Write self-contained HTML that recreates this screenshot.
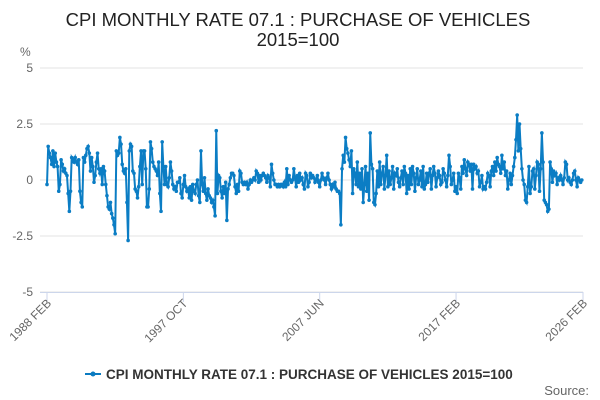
<!DOCTYPE html>
<html><head><meta charset="utf-8"><style>
body{margin:0;background:#fff;font-family:"Liberation Sans",sans-serif;}
svg{display:block}
</style></head><body>
<svg id="chart" width="600" height="400">
<text x="298" y="26" text-anchor="middle" font-size="18.5" fill="#222">CPI MONTHLY RATE 07.1 : PURCHASE OF VEHICLES</text>
<text x="298" y="46" text-anchor="middle" font-size="18.5" fill="#222">2015=100</text>
<text x="20" y="56" font-size="12" fill="#666">%</text>
<g id="grid"></g><g id="xaxis"></g><g id="series"></g>
<g>
<line x1="85" y1="374" x2="101" y2="374" stroke="#0a7bc1" stroke-width="2"/>
<circle cx="93" cy="374" r="2.5" fill="#0a7bc1"/>
<text x="106" y="379" font-size="13.5" font-weight="bold" fill="#333">CPI MONTHLY RATE 07.1 : PURCHASE OF VEHICLES 2015=100</text>
</g>
<text x="589" y="395" text-anchor="end" font-size="13" fill="#666">Source:</text>
</svg>
<script>
const yTicks=[5,2.5,0,-2.5,-5];
const yTickLabels=["5","2.5","0","-2.5","-5"];
const xTickIdx=[0,116,232,348,456];
const xTickLabels=["1988 FEB","1997 OCT","2007 JUN","2017 FEB","2026 FEB"];
const values=[
-0.2,1.5,1.2,1.0,0.7,1.3,0.6,1.2,0.8,0.6,-0.5,-0.2,
0.9,0.7,0.4,0.5,0.3,0.2,-0.6,-1.4,-0.5,1.0,0.9,0.8,
1.0,0.8,0.7,0.9,-0.5,-1.0,-1.2,1.0,0.8,1.1,1.4,1.5,
1.2,0.4,1.0,0.6,-0.1,0.2,0.8,1.2,0.5,0.3,0.5,-0.2,
0.6,0.4,-0.2,-0.7,-1.2,-1.3,-1.0,-1.5,-1.7,-2.0,-2.4,
1.3,1.1,1.2,1.9,1.6,0.7,0.4,0.3,0.5,-1.0,-2.7,
1.3,1.6,1.5,0.4,0.3,-0.4,-0.5,-0.8,-0.3,0.6,
1.3,-0.2,1.3,1.3,0.5,-1.2,-1.2,-0.4,1.7,1.4,
0.8,0.6,0.5,0.4,0.2,0.8,-0.6,-1.4,1.7,0.6,
-0.2,0.6,-0.2,-0.3,0.1,0.8,0.4,-0.2,-0.4,-0.3,-0.5,-0.1,
-0.1,0.1,-0.6,-0.8,-0.2,0.2,-0.3,-0.5,-0.4,-0.8,-0.3,-0.9,
-0.2,-0.5,-0.6,-0.2,0.0,-0.7,-1.0,1.3,
-0.2,-0.5,0.1,-0.6,-0.9,-0.4,-0.7,-0.8,-1.0,-0.9,-1.2,-1.6,2.2,
-0.6,0.2,0.1,-0.5,-0.8,-0.3,-0.6,-0.1,-1.8,
-0.4,-0.2,0.1,0.3,0.3,0.2,-0.3,-0.6,-0.2,-0.5,0.4,0.3,-0.1,-0.2,-0.1,-0.2,-0.1,-0.4,-0.2,0.0,-0.1,0.0,
0.1,0.0,0.4,0.3,-0.1,0.2,0.0,0.2,0.3,0.2,0.1,-0.1,0.2,0.1,-0.3,0.7,0.3,0.0,-0.2,-0.2,-0.3,-0.2,-0.3,-0.2,-0.2,
-0.3,-0.1,-0.3,0.5,-0.2,0.2,0.0,-0.1,0.0,0.5,0.1,-0.3,0.2,-0.1,0.3,0.0,0.1,-0.2,-0.4,0.3,0.2,-0.3,-0.1,0.3,0.1,
0.2,0.1,-0.1,0.0,0.2,-0.1,-0.3,0.0,0.3,0.1,0.0,-0.2,0.1,0.3,0.0,-0.2,-0.4,-0.2,-0.3,-0.1,-0.4,-0.5,-0.5,-0.6,-2.0,
0.5,1.1,0.8,1.9,1.4,1.2,0.9,0.6,1.3,-0.6,0.5,0.3,-0.2,0.8,-0.3,0.3,-0.4,0.5,-1.0,-0.2,0.6,-0.5,0.3,-0.9,2.1,
0.7,0.5,-1.0,-1.1,-0.6,0.4,-0.3,0.8,-0.2,0.3,0.6,-0.4,0.2,1.1,-0.3,0.4,-0.2,0.1,0.6,-0.4,0.3,0.2,0.5,-0.1,
-0.3,0.1,0.4,-0.2,0.6,0.3,-0.6,0.2,-0.4,0.5,-0.2,0.6,0.3,-0.5,0.1,0.5,-0.2,0.0,0.4,-0.3,0.6,-0.4,-0.2,0.3,
-0.1,0.3,0.5,-0.4,0.2,0.6,0.3,-0.3,0.1,0.4,0.2,-0.2,-0.1,0.5,0.3,0.0,-0.3,0.2,1.1,0.6,-0.2,0.0,0.3,-0.5,
-0.3,-0.6,0.3,0.1,-0.4,0.6,0.3,0.9,0.5,0.2,0.8,0.7,0.4,0.7,-0.4,0.7,0.5,0.6,0.3,0.4,-0.3,-0.1,0.2,-0.4,
-0.3,-0.4,-0.1,0.3,0.2,-0.3,0.4,0.6,0.2,0.8,0.4,1.0,0.7,0.6,0.3,1.1,0.5,0.8,0.2,0.4,-0.4,0.0,0.3,-0.2,0.2,0.6,1.0,1.8,2.9,
1.3,2.5,1.4,0.5,0.0,-0.2,-0.9,-1.0,-0.3,0.6,-0.6,-0.3,0.4,0.5,-0.4,0.2,0.8,0.7,-0.5,0.5,2.1,
0.8,-0.9,-1.0,-1.1,-1.4,-1.3,0.8,0.5,-0.1,0.4,0.2,0.3,-0.2,0.1,
0.0,0.2,0.0,-0.2,0.1,0.8,0.7,0.0,0.1,-0.1,-0.2,0.0,0.3,0.4,0.0,-0.3,0.1,0.0,-0.1,0.0
];
const NS="http://www.w3.org/2000/svg";
const X0=47,X1=583,Y0=180,PPU=22.4;
const N=456;
function xs(i){return X0+(X1-X0)*i/N;}
function ys(v){return Y0-v*PPU;}
const grid=document.getElementById('grid');
yTicks.forEach((t,k)=>{
 const l=document.createElementNS(NS,'line');
 l.setAttribute('x1',40);l.setAttribute('x2',X1);l.setAttribute('y1',ys(t));l.setAttribute('y2',ys(t));
 l.setAttribute('stroke','#e3e3e3');l.setAttribute('stroke-width',1);
 
 
 grid.appendChild(l);
 const tx=document.createElementNS(NS,'text');
 tx.setAttribute('x',33);tx.setAttribute('y',ys(t)+4);tx.setAttribute('text-anchor','end');
 tx.setAttribute('font-size',12);tx.setAttribute('fill','#666');tx.textContent=yTickLabels[k];
 
 
 grid.appendChild(tx);
});
const xa=document.getElementById('xaxis');
const ax=document.createElementNS(NS,'line');
ax.setAttribute('x1',40);ax.setAttribute('x2',X1);ax.setAttribute('y1',292.5);ax.setAttribute('y2',292.5);
ax.setAttribute('stroke','#ccd6eb');


xa.appendChild(ax);
xTickIdx.forEach((ti,k)=>{
 const x=xs(ti);
 const tk=document.createElementNS(NS,'line');
 tk.setAttribute('x1',x);tk.setAttribute('x2',x);tk.setAttribute('y1',292);tk.setAttribute('y2',302);
 tk.setAttribute('stroke','#ccd6eb');
 
 
 xa.appendChild(tk);
 const tx=document.createElementNS(NS,'text');
 tx.setAttribute('x',x+5);tx.setAttribute('y',304);tx.setAttribute('text-anchor','end');
 tx.setAttribute('font-size',12);tx.setAttribute('fill','#666');
 tx.setAttribute('transform','rotate(-45 '+(x+5)+' 304)');
 tx.textContent=xTickLabels[k];
 
 
 xa.appendChild(tx);
});
const s=document.getElementById('series');
const p=document.createElementNS(NS,'path');
p.setAttribute('d',values.map((v,i)=>(i?'L':'M')+xs(i).toFixed(2)+' '+ys(v).toFixed(2)).join(''));
p.setAttribute('fill','none');p.setAttribute('stroke','#0b7dc4');p.setAttribute('stroke-width',2);


s.appendChild(p);
values.forEach((v,i)=>{
 const c=document.createElementNS(NS,'circle');
 c.setAttribute('cx',xs(i));c.setAttribute('cy',ys(v));c.setAttribute('r',1.8);c.setAttribute('fill','#0b7dc4');
 
 
 s.appendChild(c);
});
</script>
</body></html>
